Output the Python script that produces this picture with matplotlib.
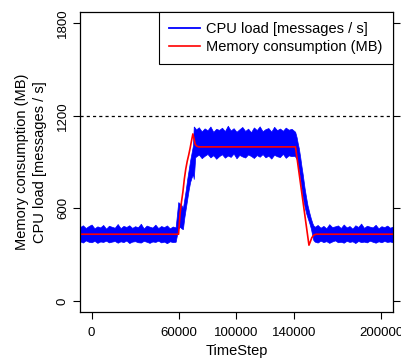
import matplotlib
matplotlib.use("Agg")
import matplotlib.pyplot as plt

plt.rcParams['font.family'] = ['Liberation Sans', 'DejaVu Sans']

#
# Data
#

# CPU load: noisy band, given as upper / lower envelope
cpu_t = ([-8000 + 2000 * i for i in range(34)]
         + [59800, 61000, 62000, 63000, 64000, 65000, 66000, 67000, 68000, 69000, 70000, 70500, 71500]
         + [72000 + 2000 * i for i in range(35)]
         + [140500, 141500, 142300, 143000, 144000, 144600, 145700, 147000, 148000, 149000, 150300, 151300, 152400, 153000]
         + [154000 + 2000 * i for i in range(28)])

cpu_hi = ([478, 490, 472, 485, 495, 470, 483, 476, 492, 468, 487, 480, 474, 498, 471, 486, 479,
           490, 473, 484, 477, 500, 469, 488, 481, 475, 494, 472, 485, 478, 489, 470, 482, 476]
          + [640, 630, 620, 600, 660, 720, 790, 850, 910, 960, 1010, 1130, 1120]
          + [1110, 1125, 1098, 1118, 1105, 1130, 1095, 1115, 1108, 1122, 1100, 1135, 1104, 1119, 1096,
             1112, 1127, 1101, 1116, 1093, 1124, 1107, 1131, 1099, 1113, 1120, 1097, 1128, 1106, 1117,
             1102, 1123, 1109, 1115, 1100]
          + [1095, 1060, 1020, 990, 930, 888, 820, 730, 673, 620, 570, 535, 503, 490]
          + [480, 492, 474, 486, 470, 497, 478, 483, 489, 472, 495, 476, 485, 468, 490, 479, 501, 473,
             487, 481, 476, 493, 470, 484, 478, 488, 474, 482])

cpu_lo = ([386, 378, 392, 383, 380, 389, 376, 385, 382, 390, 379, 384, 388, 377, 386, 381, 391,
           375, 384, 387, 380, 378, 389, 383, 376, 385, 382, 390, 379, 384, 374, 386, 381, 383]
          + [470, 480, 470, 465, 540, 600, 660, 720, 770, 800, 820, 790, 930]
          + [935, 948, 925, 940, 952, 930, 944, 921, 938, 950, 928, 942, 933, 955, 924, 946, 936, 929,
             949, 939, 926, 945, 934, 951, 930, 941, 922, 947, 937, 932, 953, 927, 943, 938, 940]
          + [935, 920, 888, 850, 790, 750, 673, 610, 570, 540, 503, 470, 420, 395]
          + [384, 378, 390, 381, 387, 376, 385, 392, 380, 383, 377, 389, 382, 386, 375, 388, 381, 384,
             379, 390, 383, 377, 386, 380, 388, 382, 385, 379])

# Memory consumption
mem_t = [-8000, 60000, 61000, 62000, 63000, 64000, 65000, 66000, 67000, 68000, 69000, 69900,
         70700, 71500, 72500, 74000, 140700, 150000, 151000, 152000, 153500, 155000, 208000]
mem_v = [432, 432, 560, 640, 705, 790, 855, 905, 945, 990, 1040, 1082,
         1050, 1015, 1003, 998, 998, 361, 385, 410, 428, 432, 432]

limit_line = 1200
xticks = [0, 60000, 100000, 140000, 200000]
yticks = [0, 600, 1200, 1800]

#
# Plot
#

fig = plt.figure(figsize=(4.02, 3.63), dpi=100)
ax = fig.add_axes([80 / 402, 1 - 312 / 363, 313 / 402, 300 / 363])

ax.fill_between(cpu_t, cpu_lo, cpu_hi, color='blue', linewidth=0.5, edgecolor='blue')
ax.plot([], [], color='blue', lw=1.3, label='CPU load [messages / s]')
ax.plot(mem_t, mem_v, color='red', lw=1.2, label='Memory consumption (MB)')
ax.axhline(limit_line, color='black', lw=0.9, linestyle=(0, (2.5, 2.5)))

ax.set_xlim(-8000, 208000)
ax.set_ylim(-72, 1872)
ax.set_xticks(xticks)
ax.set_xticklabels([str(x) for x in xticks])
ax.set_yticks(yticks)
ax.set_yticklabels([str(y) for y in yticks], rotation=90, va='center')

ax.tick_params(axis='both', labelsize=9.5, length=5, width=0.8, direction='out')
ax.tick_params(axis='x', pad=5.5)
ax.tick_params(axis='y', right=True, pad=3)
for sp in ax.spines.values():
    sp.set_linewidth(0.9)

ax.set_xlabel('TimeStep', fontsize=10.5, labelpad=4)
ax.set_ylabel('Memory consumption (MB)\nCPU load [messages / s]', fontsize=10.5,
              labelpad=7, linespacing=1.4)

leg = ax.legend(loc='upper right', bbox_to_anchor=(1, 1), borderaxespad=0, fancybox=False,
                edgecolor='black', framealpha=1, fontsize=10.5, handlelength=2.1,
                handletextpad=0.45, borderpad=0.7, labelspacing=0.25)
leg.get_frame().set_linewidth(0.8)

fig.savefig('out.png', dpi=100)
